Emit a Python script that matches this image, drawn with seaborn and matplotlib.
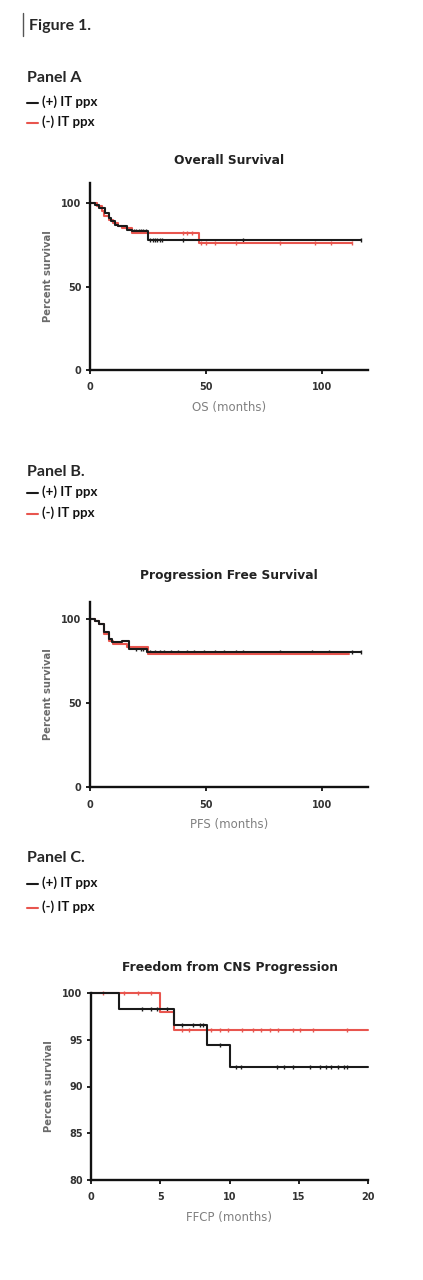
import numpy as np
import matplotlib
matplotlib.use("Agg")
import matplotlib.pyplot as plt
from matplotlib.lines import Line2D
import seaborn as sns

# ---- data (step time, survival after step) ----
# Panel A: overall survival
os_pos_t = [0, 2, 4, 6.5, 8, 9, 11, 12, 16, 18, 25, 117]
os_pos_s = [100, 99, 97, 94, 91, 89, 87, 86, 84, 83, 78, 78]
os_pos_cens = [19, 20, 21, 22, 23, 24, 26, 27, 28, 29, 30, 31, 40, 66, 117]
os_neg_t = [0, 3, 5, 6, 8, 10, 12, 14, 18, 47, 113]
os_neg_s = [100, 98, 95, 92, 90, 88, 86, 85, 82, 76, 76]
os_neg_cens = [40, 42, 44, 48, 50, 54, 63, 82, 97, 104, 113]

# Panel B: progression free survival
pfs_pos_t = [0, 2, 4, 6, 8, 9.5, 14, 17, 24.5, 117]
pfs_pos_s = [100, 99, 97, 92, 88, 86, 87, 82, 80, 80]
pfs_pos_cens = [20, 22, 23, 26, 28, 30, 32, 35, 38, 42, 45, 49, 54, 58, 63, 66, 82, 96, 103, 113, 117]
pfs_neg_t = [0, 2, 4, 6, 8, 10, 16, 25, 112]
pfs_neg_s = [100, 99, 97, 91, 87, 85, 83, 79, 79]
pfs_neg_cens = []

# Panel C: freedom from CNS progression
cns_pos_t = [0, 2, 6, 8.4, 10, 20]
cns_pos_s = [100, 98.3, 96.6, 94.4, 92.1, 92.1]
cns_pos_cens = [3.7, 4.3, 4.8, 5.5, 6.6, 7.4, 7.9, 8.1, 9.3, 10.5, 10.8, 13.4, 13.9,
                14.6, 15.8, 16.5, 17.0, 17.3, 17.8, 18.3, 18.5]
cns_neg_t = [0, 5, 6, 20]
cns_neg_s = [100, 98, 96, 96]
cns_neg_cens = [0.9, 2.4, 3.4, 4.3, 6.6, 7.1, 8.7, 9.3, 9.9, 10.9, 11.7, 12.3, 12.9,
                13.5, 14.6, 15.1, 16.0, 18.5]

panels = [
    ("Panel A", "Overall Survival", "OS (months)",
     (os_pos_t, os_pos_s, os_pos_cens), (os_neg_t, os_neg_s, os_neg_cens),
     (0, 120), (0, 112), [0, 50, 100], [0, 50, 100]),
    ("Panel B.", "Progression Free Survival", "PFS (months)",
     (pfs_pos_t, pfs_pos_s, pfs_pos_cens), (pfs_neg_t, pfs_neg_s, pfs_neg_cens),
     (0, 120), (0, 110), [0, 50, 100], [0, 50, 100]),
    ("Panel C.", "Freedom from CNS Progression", "FFCP (months)",
     (cns_pos_t, cns_pos_s, cns_pos_cens), (cns_neg_t, cns_neg_s, cns_neg_cens),
     (0, 20), (80, 100), [0, 5, 10, 15, 20], [80, 85, 90, 95, 100]),
]

BLACK = "#1a1a1a"
RED = "#e8554e"

sns.set_style("ticks")
plt.rcParams['font.family'] = ['DejaVu Sans']

fig = plt.figure(figsize=(4.23, 12.8), dpi=100)
W, H = 423.0, 1280.0


def px(x, y):
    return x / W, 1 - y / H


def km_curve(ax, t, s, cens, color):
    sns.lineplot(x=t, y=s, ax=ax, color=color, drawstyle='steps-post',
                 linewidth=1.5, estimator=None, clip_on=False)
    if len(cens):
        idx = np.searchsorted(t, cens, side='right') - 1
        sns.scatterplot(x=cens, y=np.asarray(s)[idx], ax=ax, color=color,
                        marker='|', s=9, linewidth=1.0, clip_on=False)


# axes rectangles in pixels: left, top, right, bottom
boxes = [(90, 183, 368, 370), (90, 602, 368, 787), (91, 993, 368, 1180)]
header_y = [(78, 102, 122), (472, 492, 513), (858, 883, 907)]
title_pad = [14, 16.5, 16]

# header text
fig.text(*px(29, 26), "Figure 1.", fontsize=11.5, fontweight='bold',
         family=['Lato', 'DejaVu Sans'], va='center', ha='left')
fig.add_artist(Line2D([23 / W, 23 / W], [1 - 13 / H, 1 - 36 / H], color="#555555", linewidth=1))

for (name, title, xlabel, pos, neg, xlim, ylim, xt, yt), box, hy, tp in zip(
        panels, boxes, header_y, title_pad):
    fig.text(*px(27, hy[0]), name, fontsize=11.5, fontweight='bold',
             family=['Lato', 'DejaVu Sans'], va='center', ha='left')
    for yy, col, lab in [(hy[1], BLACK, "(+) IT ppx"), (hy[2], RED, "(-) IT ppx")]:
        fig.add_artist(Line2D([27 / W, 38 / W], [1 - (yy + 1) / H] * 2, color=col, linewidth=1.5))
        fig.text(*px(42, yy), lab, fontsize=9.5, fontweight='bold',
                 family=['Lato', 'DejaVu Sans'], va='center', ha='left', color="#111111")

    l, t, r, b = box
    ax = fig.add_axes([l / W, 1 - b / H, (r - l) / W, (b - t) / H])
    km_curve(ax, *neg, RED)
    km_curve(ax, *pos, BLACK)

    ax.set_xlim(*xlim)
    ax.set_ylim(*ylim)
    ax.set_xticks(xt)
    ax.set_yticks(yt)
    sns.despine(ax=ax)
    for sp in ("left", "bottom"):
        ax.spines[sp].set_linewidth(1.7)
        ax.spines[sp].set_color("#111111")
    ax.tick_params(axis='both', length=3, width=1.3, colors="#111111",
                   labelsize=7, labelcolor="#333333")
    ax.tick_params(axis='x', pad=6)
    ax.tick_params(axis='y', pad=3)
    for lbl in ax.get_xticklabels() + ax.get_yticklabels():
        lbl.set_fontweight('bold')

    ax.set_title(title, fontsize=8.8, fontweight='bold', color="#222222", pad=tp)
    ax.set_xlabel(xlabel, fontsize=8.5, color="#808080", labelpad=6)
    ax.set_ylabel("Percent survival", fontsize=7.2, fontweight='bold',
                  color="#6a6a6a", labelpad=6)

fig.savefig("out.png", dpi=100)
